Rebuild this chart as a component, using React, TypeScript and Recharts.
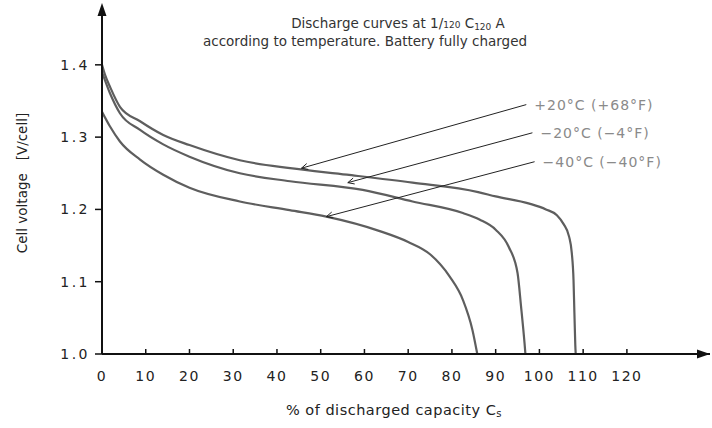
import React from 'react';
import { LineChart, Line, XAxis, YAxis, ReferenceLine, ReferenceDot } from 'recharts';

// axis ticks
const xTicks = [0, 10, 20, 30, 40, 50, 60, 70, 80, 90, 100, 110, 120];
const yTicks = [1.0, 1.1, 1.2, 1.3, 1.4];

// +20°C curve (% discharged, V/cell)
const plus20Capacity = [0, 0.7, 1.8, 4.1, 8.7, 14, 20, 31.5, 43, 56, 71, 86, 90, 97.7, 101.5, 104, 105.5, 106.8, 107.4, 107.8, 108, 108.2, 108.3];
const plus20Voltage = [1.4, 1.386, 1.37, 1.342, 1.322, 1.303, 1.289, 1.268, 1.257, 1.248, 1.237, 1.224, 1.218, 1.208, 1.2, 1.192, 1.18, 1.162, 1.14, 1.102, 1.057, 1.013, 1.0];

// -20°C curve
const minus20Capacity = [0, 1.8, 4.1, 8.7, 14, 20, 31.5, 43, 59.6, 71, 82.5, 86.3, 90, 93, 95, 95.8, 96.6, 96.8];
const minus20Voltage = [1.39, 1.361, 1.333, 1.31, 1.29, 1.273, 1.25, 1.239, 1.227, 1.211, 1.195, 1.186, 1.172, 1.148, 1.112, 1.066, 1.015, 1.0];

// -40°C curve
const minus40Capacity = [0, 1.8, 4.1, 8.7, 14, 20, 31.5, 42.9, 51.3, 63.5, 70, 75, 79.5, 82.5, 84.7, 85.8];
const minus40Voltage = [1.335, 1.315, 1.294, 1.269, 1.248, 1.23, 1.211, 1.199, 1.19, 1.17, 1.155, 1.138, 1.107, 1.075, 1.033, 1.0];

// callouts: point on curve -> label anchor
const calloutLabels = ['+20°C (+68°F)', '−20°C (−4°F)', '−40°C (−40°F)'];
const calloutTipX = [45.6, 56.2, 51.3];
const calloutTipY = [1.257, 1.237, 1.19];
const calloutEndX = [97, 98.4, 98.9];
const calloutEndY = [1.345, 1.306, 1.266];

const toPoints = (cap: number[], volt: number[]) => cap.map((p, i) => ({ p, v: volt[i] }));

const curves = [
  { name: '+20°C', data: toPoints(plus20Capacity, plus20Voltage) },
  { name: '-20°C', data: toPoints(minus20Capacity, minus20Voltage) },
  { name: '-40°C', data: toPoints(minus40Capacity, minus40Voltage) },
];

const FONT = '"DejaVu Sans", sans-serif';

const ArrowRight = (props: any) => (
  <path d={`M${props.cx} ${props.cy} l-13 -4.5 l0 9 z`} fill="#111" />
);
const ArrowUp = (props: any) => (
  <path d={`M${props.cx} ${props.cy - 4} l-4.5 13 l9 0 z`} fill="#111" />
);

// leader line with a small open arrowhead at the curve end
const Leader = (props: any) => {
  const { x1, y1, x2, y2 } = props;
  if ([x1, y1, x2, y2].some((n) => typeof n !== 'number' || isNaN(n))) return null;
  const a = Math.atan2(y2 - y1, x2 - x1);
  const len = 7;
  const spread = 0.45;
  const ax = x1 + len * Math.cos(a + spread);
  const ay = y1 + len * Math.sin(a + spread);
  const bx = x1 + len * Math.cos(a - spread);
  const by = y1 + len * Math.sin(a - spread);
  return (
    <g>
      <line x1={x1} y1={y1} x2={x2} y2={y2} stroke="#222" strokeWidth={1} />
      <path d={`M${ax} ${ay} L${x1} ${y1} L${bx} ${by}`} fill="none" stroke="#222" strokeWidth={1} />
    </g>
  );
};

const App = () => {
  return (
    <div style={{ position: 'absolute', left: 0, top: 0, width: 712, height: 428, background: '#fff' }}>
      <LineChart
        width={712}
        height={428}
        margin={{ top: 7, right: 2, bottom: 0, left: 0 }}
        style={{ fontFamily: FONT }}
      >
        <XAxis
          type="number"
          dataKey="p"
          domain={[0, 139]}
          ticks={xTicks}
          allowDataOverflow
          height={74}
          axisLine={{ stroke: '#111', strokeWidth: 2 }}
          tickLine={{ stroke: '#111', strokeWidth: 1.5 }}
          tickSize={-5}
          tickMargin={22}
          tick={{ fill: '#222', fontSize: 14, letterSpacing: 1.5 }}
        />
        <YAxis
          type="number"
          dataKey="v"
          domain={[1.0, 1.48]}
          ticks={yTicks}
          allowDataOverflow
          width={102}
          axisLine={{ stroke: '#111', strokeWidth: 2 }}
          tickLine={{ stroke: '#111', strokeWidth: 1.5 }}
          tickSize={7}
          tickMargin={5}
          tickFormatter={(v: number) => v.toFixed(1)}
          tick={{ fill: '#222', fontSize: 14, letterSpacing: 2.5 }}
        />
        {curves.map((c) => (
          <Line
            key={c.name}
            data={c.data}
            dataKey="v"
            type="monotone"
            stroke="#5e5e5e"
            strokeWidth={2.2}
            dot={false}
            isAnimationActive={false}
          />
        ))}
        {calloutLabels.map((label, i) => (
          <ReferenceLine
            key={`cl-${i}`}
            segment={[
              { x: calloutTipX[i], y: calloutTipY[i] },
              { x: calloutEndX[i], y: calloutEndY[i] },
            ]}
            stroke="#222"
            strokeWidth={1}
            ifOverflow="visible"
            shape={Leader}
          />
        ))}
        {calloutLabels.map((label, i) => (
          <ReferenceDot
            key={`cd-${i}`}
            x={calloutEndX[i]}
            y={calloutEndY[i]}
            r={0}
            fill="none"
            stroke="none"
            ifOverflow="visible"
            label={{ value: label, position: 'right', offset: 8, fill: '#8a8a8a', fontSize: 14, letterSpacing: 1 }}
          />
        ))}
        <ReferenceDot x={139} y={1.0} r={0} ifOverflow="visible" shape={ArrowRight} />
        <ReferenceDot x={0} y={1.48} r={0} ifOverflow="visible" shape={ArrowUp} />
      </LineChart>
      <svg
        width={712}
        height={428}
        style={{ position: 'absolute', left: 0, top: 0, pointerEvents: 'none', fontFamily: FONT }}
      >
        <text x={398} y={28} textAnchor="middle" fontSize={13.5} fill="#333">
          Discharge curves at 1/<tspan fontSize={9}>120</tspan> C<tspan fontSize={9} dy={2}>120</tspan>
          <tspan dy={-2}> A</tspan>
        </text>
        <text x={365} y={46} textAnchor="middle" fontSize={13.5} fill="#333">
          according to temperature. Battery fully charged
        </text>
        <text x={394} y={415} textAnchor="middle" fontSize={14.5} fill="#222" letterSpacing={0.5}>
          % of discharged capacity C<tspan fontSize={10} dy={2}>s</tspan>
        </text>
        <text
          x={22}
          y={183}
          textAnchor="middle"
          dominantBaseline="central"
          fontSize={13.5}
          fill="#222"
          transform="rotate(-90 22 183)"
          style={{ whiteSpace: 'pre' }}
        >
          {'Cell voltage   [V/cell]'}
        </text>
      </svg>
    </div>
  );
};

export default App;
